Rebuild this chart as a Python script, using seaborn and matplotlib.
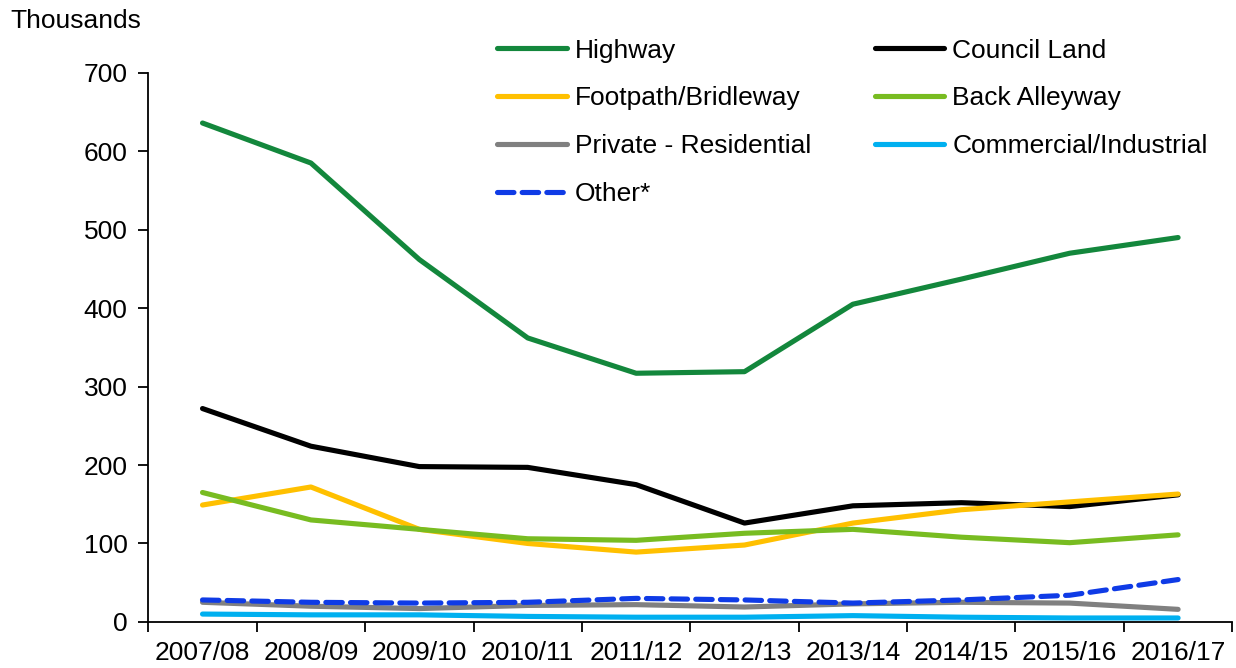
import numpy as np
import pandas as pd
import matplotlib
matplotlib.use('Agg')
import matplotlib.pyplot as plt
import seaborn as sns

years = ['2007/08', '2008/09', '2009/10', '2010/11', '2011/12',
         '2012/13', '2013/14', '2014/15', '2015/16', '2016/17']

# values in thousands
highway = [636, 585, 462, 362, 317, 319, 405, 437, 470, 490]
council_land = [272, 224, 198, 197, 175, 126, 148, 152, 147, 162]
footpath = [149, 172, 118, 100, 89, 98, 126, 143, 153, 163]
back_alleyway = [165, 130, 118, 106, 104, 113, 118, 108, 101, 111]
private_res = [25, 20, 17, 21, 22, 19, 23, 25, 24, 16]
commercial = [10, 9, 9, 7, 6, 6, 8, 6, 5, 5]
other = [28, 25, 24, 25, 30, 28, 24, 28, 34, 54]

series_names = ['Highway', 'Council Land', 'Footpath/Bridleway', 'Back Alleyway',
                'Private - Residential', 'Commercial/Industrial', 'Other*']
series_values = [highway, council_land, footpath, back_alleyway,
                 private_res, commercial, other]

colours = {'Highway': '#13873C', 'Council Land': '#000000',
           'Footpath/Bridleway': '#FFC000', 'Back Alleyway': '#78BC21',
           'Private - Residential': '#808080', 'Commercial/Industrial': '#00B0F0',
           'Other*': '#0F3BE6'}
dashes = {n: '' for n in series_names}
dashes['Other*'] = (3.2, 1.6)

df = pd.concat([pd.DataFrame({'year': years, 'value': v, 'type': n})
                for n, v in zip(series_names, series_values)], ignore_index=True)

sns.set_theme(style='white')
plt.rcParams['font.family'] = ['Liberation Sans', 'DejaVu Sans']
plt.rcParams.update({'text.color': 'black', 'xtick.color': 'black',
                     'ytick.color': 'black', 'axes.labelcolor': 'black'})

fig = plt.figure(figsize=(12.36, 6.68), dpi=100)
ax = fig.add_axes([0.12, 0.069, 0.877, 0.822])

sns.lineplot(data=df, x='year', y='value', hue='type', style='type',
             palette=colours, dashes=dashes, linewidth=3.7, sort=False,
             ax=ax, solid_capstyle='round', dash_capstyle='round')

ax.set_xlim(-0.5, len(years) - 0.5)
ax.set_ylim(0, 700)
ax.set_yticks(np.arange(0, 701, 100))
ax.set_xlabel('')
ax.set_ylabel('')
ax.set_xticks(range(len(years)))
ax.set_xticklabels(years)
ax.set_xticks(np.arange(-0.5, len(years)), minor=True)
ax.tick_params(axis='x', which='major', length=0, labelsize=19, pad=14)
ax.tick_params(axis='x', which='minor', length=7, width=1.3, color='black', bottom=True)
ax.tick_params(axis='y', length=7, width=1.3, color='black', left=True, labelsize=19, pad=8)
for s in ['top', 'right']:
    ax.spines[s].set_visible(False)
for s in ['left', 'bottom']:
    ax.spines[s].set_color('black')
    ax.spines[s].set_linewidth(1.3)

handles, labels = ax.get_legend_handles_labels()
lookup = dict(zip(labels, handles))
# legend fills by column, so reorder to read row by row like the original
order = [0, 2, 4, 6, 1, 3, 5]
leg_labels = [series_names[i] for i in order]
leg_handles = [lookup[l] for l in leg_labels]
for h in leg_handles:
    h.set_linewidth(3.7)
    h.set_solid_capstyle('round')
    h.set_dash_capstyle('round')
ax.legend(leg_handles, leg_labels, ncol=2, frameon=False,
          loc='upper left', bbox_to_anchor=(0.3915, 0.962), bbox_transform=fig.transFigure,
          fontsize=19, handlelength=2.65, handletextpad=0.3, columnspacing=2.4,
          labelspacing=0.9, borderpad=0)

fig.text(10 / 1236, 1 - 9 / 668, 'Thousands', ha='left', va='top', fontsize=19)

fig.savefig('out.png', dpi=100)
